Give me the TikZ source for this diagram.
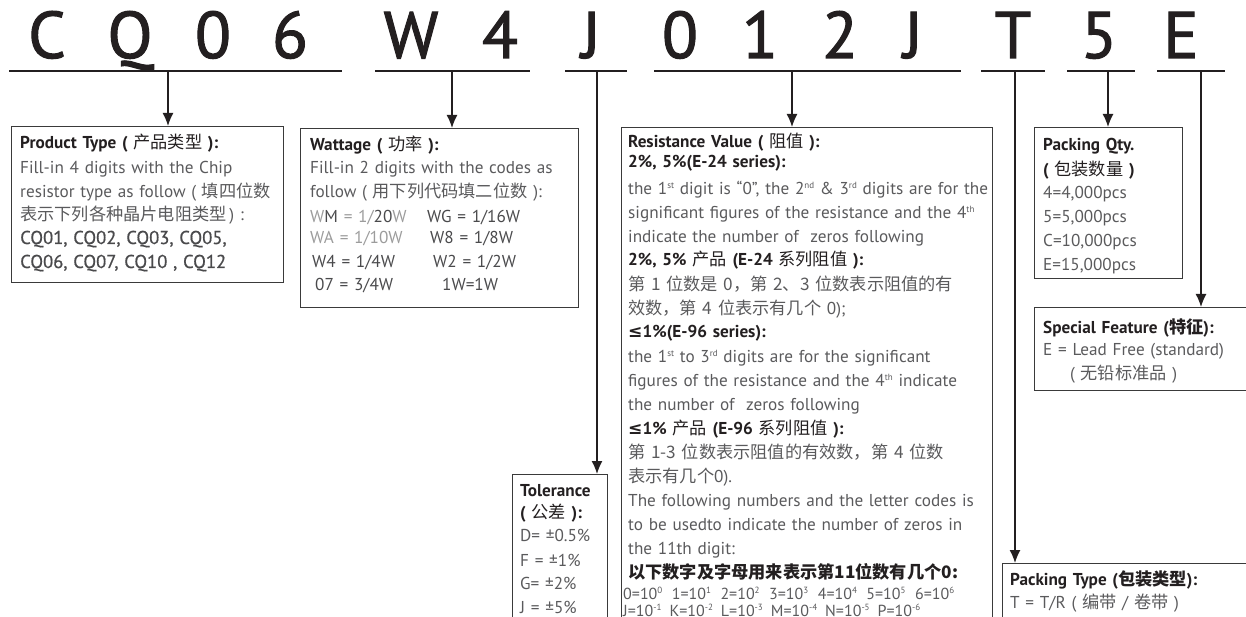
\documentclass[tikz,border=0pt]{standalone}
\usepackage{fontspec}
\setmainfont{PT Sans}[WordSpace=0.78]
\newfontfamily\cjk{Noto Sans CJK SC}
\newfontfamily\symf{DejaVu Sans}
\newfontfamily\codefont{PT Sans}[FakeBold=1.6]
\newfontfamily\semif{PT Sans}[FakeBold=0.7, WordSpace=0.78]
\usetikzlibrary{arrows.meta}

\definecolor{ink}{HTML}{231F20}
\definecolor{bodygray}{HTML}{5A5A5C}
\definecolor{codegray}{HTML}{4A4A4C}
\definecolor{palegray}{HTML}{9C9C9C}
\definecolor{rulegray}{HTML}{3A3A3A}

\newcommand{\zh}[1]{{\cjk\mdseries #1}}
\newcommand{\zhb}[1]{{\cjk\bfseries #1}}
\newcommand{\sps}[1]{\raisebox{5.5pt}{\fontsize{9}{9}\selectfont #1}}
\newcommand{\hd}[1]{\textcolor{ink}{\bfseries #1}}
\newcommand{\lesym}{{\symf\bfseries ≤}}

\tikzset{
  code/.style={font=\codefont\fontsize{66}{66}\selectfont, text=ink, anchor=base, inner sep=0pt},
  uline/.style={line width=1.8pt, draw=ink},
  arr/.style={-{Latex[length=13pt,width=11pt]}, line width=1.4pt, draw=ink},
  infobox/.style={draw=rulegray, line width=1.3pt, anchor=north west, inner sep=0pt},
  info/.style={anchor=base west, inner sep=0pt, text width=#1, align=left,
    text=bodygray, font=\fontsize{17.2}{24}\selectfont},
  info/.default=300pt
}

\begin{document}
\begin{tikzpicture}[x=1pt, y=-1pt]
    \useasboundingbox (0,0) rectangle (1246,617);
    \clip (0,0) rectangle (1246,617);

    % part number
    \foreach \x/\ch [count=\i] in {47/C,130/Q,213/0,290/6,411/W,500/4,591/J,680/0,760/1,840/2,913/J,1013/T,1099/5,1181/E}
        \node[code] (ch\i) at (\x,58) {\ch};
    \foreach \a/\b in {9/342,375/530,565/627,654/961,981/1045,1067/1135,1157/1225}
        \draw[uline] (\a,71) -- (\b,71);

    % boxes
    \node[infobox, minimum width=272pt, minimum height=156pt] (prod) at (11,126) {};
    \node[infobox, minimum width=278pt, minimum height=179pt] (watt) at (300,128) {};
    \node[infobox, minimum width=95pt, minimum height=170pt] (tol) at (512,474) {};
    \node[infobox, minimum width=371pt, minimum height=520pt] (res) at (621,127) {};
    \node[infobox, minimum width=148pt, minimum height=151pt] (qty) at (1034,127) {};
    \node[infobox, minimum width=230pt, minimum height=83pt] (feat) at (1034,307) {};
    \node[infobox, minimum width=270pt, minimum height=90pt] (ptype) at (1002,563) {};

    % arrows
    \coordinate (cq) at (168,71);
    \coordinate (wt) at (452,71);
    \coordinate (tl) at (597,71);
    \coordinate (rv) at (792,71);
    \coordinate (pt) at (1015,71);
    \coordinate (pq) at (1108,71);
    \coordinate (sf) at (1201,71);
    \draw[arr] (cq) -- (cq |- prod.north);
    \draw[arr] (wt) -- (wt |- watt.north);
    \draw[arr] (tl) -- (tl |- tol.north);
    \draw[arr] (rv) -- (rv |- res.north);
    \draw[arr] (pt) -- (pt |- ptype.north);
    \draw[arr] (pq) -- (pq |- qty.north);
    \draw[arr] (sf) -- (sf |- feat.north);

    % texts
    \node[info] (prodtxt) at (20,149) {\hd{Product Type ( \zh{产品类型} ):}\\[1pt]
        Fill-in 4 digits with the Chip\\
        resistor type as follow ( \zh{填四位数}\\[-1pt]
        \zh{表示下列各种晶片电阻类型}\,) :\\[-1pt]
        {\semif\fontsize{18.6}{24}\selectfont\color{codegray}CQ01, CQ02, CQ03, CQ05,}\\
        {\semif\fontsize{18.6}{24}\selectfont\color{codegray}CQ06, CQ07, CQ10 , CQ12}};
    \node[info] (watttxt) at (310,151) {\hd{Wattage ( \zh{功率} ):}\\[-1pt]
        Fill-in 2 digits with the codes as\\
        follow ( \zh{用下列代码填二位数} ):\\[1pt]
        \makebox[117pt][l]{\textcolor{palegray}{W}\textcolor{codegray}{M}\textcolor{palegray}{\ = 1/}\textcolor{codegray}{20}\textcolor{palegray}{W}}\textcolor{codegray}{WG = 1/16W}\\[-3pt]
        \makebox[120pt][l]{\textcolor{palegray}{WA = 1/10W}}\textcolor{codegray}{W8 = 1/8W}\\
        \textcolor{codegray}{\hspace*{2pt}\makebox[121pt][l]{W4 = 1/4W}W2 = 1/2W}\\[-1pt]
        \textcolor{codegray}{\hspace*{5pt}\makebox[127pt][l]{07 = 3/4W}1W=1W}};
    \node[info=120pt] (toltxt) at (520,496) {\hd{Tolerance}\\[-2pt]
        \hd{( \zh{公差} ):}\\[-1pt]
        D= ±0.5\%\\[1pt]
        F = ±1\%\\[-1pt]
        G= ±2\%\\
        J = ±5\%};
    \node[info=365pt] (restxt) at (628,148) {\hd{Resistance Value ( \zh{阻值} ):}\\[-4pt]
        \hd{2\%, 5\%(E-24 series):}\\[2.5pt]
        the 1\sps{st} digit is ``0'', the 2\sps{nd} \& 3\sps{rd} digits are for the\\
        significant figures of the resistance and the 4\sps{th}\\
        indicate the number of\ \ zeros following\\[-1pt]
        \hd{2\%, 5\% \zh{产品} (E-24 \zh{系列阻值} ):}\\[1pt]
        \zh{第 1 位数是 0，第 2、3 位数表示阻值的有}\\
        \zh{效数，第 4 位表示有几个} 0);\\[-1pt]
        \hd{\lesym1\%(E-96 series):}\\[1pt]
        the 1\sps{st} to 3\sps{rd} digits are for the significant\\
        figures of the resistance and the 4\sps{th} indicate\\
        the number of\ \ zeros following\\
        \hd{\lesym1\% \zh{产品} (E-96 \zh{系列阻值} ):}\\
        \zh{第 1-3 位数表示阻值的有效数，第 4 位数}\\
        \zh{表示有几个}0).\\
        The following numbers and the letter codes is\\
        to be usedto indicate the number of zeros in\\
        the 11th digit:\\[0pt]
        \textcolor{ink}{\zhb{以下数字及字母用来表示第11位数有几个0:}}\\[-3pt]
        \hspace*{-5pt}{\fontsize{16}{24}\selectfont 0=10\sps{0}\hspace{9.5pt}1=10\sps{1}\hspace{9.5pt}2=10\sps{2}\hspace{9.5pt}3=10\sps{3}\hspace{9.5pt}4=10\sps{4}\hspace{9.5pt}5=10\sps{5}\hspace{9.5pt}6=10\sps{6}}\\[-7pt]
        \hspace*{-5pt}{\fontsize{16}{24}\selectfont J=10\sps{-1}\hspace{8pt}K=10\sps{-2}\hspace{8pt}L=10\sps{-3}\hspace{8pt}M=10\sps{-4}\hspace{8pt}N=10\sps{-5}\hspace{8pt}P=10\sps{-6}}};
    \node[info=140pt] (qtytxt) at (1043,151) {\hd{Packing Qty.}\\[1pt]
        \hd{( \zh{包装数量} )}\\[-1pt]
        4=4,000pcs\\
        5=5,000pcs\\
        C=10,000pcs\\
        E=15,000pcs};
    \node[info=200pt] (feattxt) at (1043,333) {\hd{Special Feature (\zhb{特征}):}\\[-2pt]
        E = Lead Free (standard)\\
        \hspace*{27pt}( \zh{无铅标准品} )};
    \node[info=230pt] (ptypetxt) at (1010,585) {\hd{Packing Type (\zhb{包装类型}):}\\[-1pt]
        T = T/R ( \zh{编带} / \zh{卷带} )};
\end{tikzpicture}
\end{document}
